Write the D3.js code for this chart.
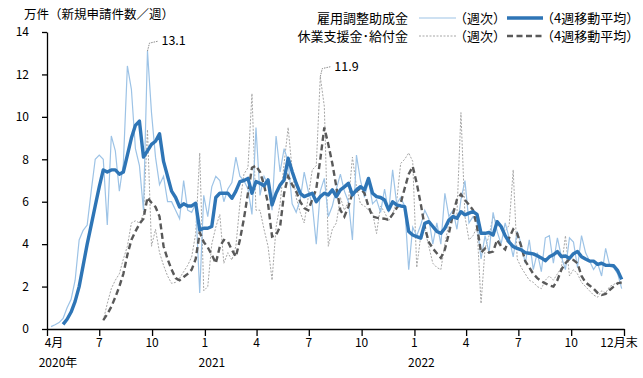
<!DOCTYPE html>
<html>
<head>
<meta charset="utf-8">
<script src="https://cdn.jsdelivr.net/npm/d3@7"></script>
<style>
  body { margin: 0; background: #fff; }
  svg text { font-family: "Noto Sans CJK JP", "Noto Sans", sans-serif; fill: #000; }
</style>
</head>
<body>
<div id="chart"></div>
<script>
// weekly new applications (10k cases/week), first week ending 2020-04-08
const firstWeek = new Date(2020, 3, 8);

const koyoWeekly = [
  0.11, 0.2, 0.3, 0.5, 1.0, 1.4, 2.3, 4.2, 4.65, 4.9,
  6.5, 8.0, 8.2, 8.0, 4.9, 9.1, 8.4, 6.5, 7.8, 12.4,
  11.3, 8.5, 7.7, 5.6, 13.1, 10.2, 8.1, 6.8, 7.2, 6.0,
  6.0, 5.6, 5.2, 7.0, 5.6, 5.5, 5.9, 1.7, 6.3, 5.3,
  6.7, 7.2, 7.0, 6.0, 6.6, 6.9, 8.1, 7.2, 7.0, 6.6,
  5.4, 9.5, 6.3, 7.2, 6.8, 5.6, 9.1, 7.4, 8.5, 7.9,
  5.9, 5.5, 6.1, 7.4, 6.5, 5.9, 4.0, 6.5, 7.1, 5.3,
  5.8, 6.6, 7.3, 6.5, 6.0, 4.2, 8.2, 7.0, 6.2, 7.0,
  5.9, 6.1, 5.5, 6.6, 5.5, 7.5, 5.9, 6.2, 5.8, 2.8,
  4.8, 4.4, 4.9, 5.6, 5.2, 4.0, 5.0, 4.0, 6.4, 5.3,
  5.6, 4.7, 6.1, 7.0, 5.0, 5.3, 5.0, 3.3, 4.4, 3.6,
  5.5, 4.6, 4.0, 5.0, 4.3, 3.4, 4.6, 4.0, 3.1, 4.2,
  2.8, 3.6, 2.7, 4.3, 4.4, 3.1, 4.3, 3.4, 2.8, 4.3,
  4.1, 2.9, 4.4, 3.6, 3.2, 2.8, 3.1, 2.5, 3.8, 3.0,
  2.9, 2.6, 1.9
];

const koyoAvg = [
  null, null, null, 0.22, 0.46, 0.8, 1.3, 2.0, 3.0, 4.0,
  4.9, 5.8, 6.7, 7.5, 7.4, 7.5, 7.5, 7.3, 7.4, 8.2,
  9.0, 9.6, 9.8, 8.1, 8.4, 8.7, 8.85, 9.2, 7.9, 7.2,
  6.5, 6.2, 5.75, 5.9, 5.8, 5.8, 5.93, 4.67, 4.75, 4.75,
  4.83, 6.2, 6.4, 6.4, 6.4, 6.16, 6.5, 6.95, 7.0, 7.1,
  6.4, 6.95, 6.87, 6.75, 7.03, 5.85, 6.4, 6.79, 7.03, 8.05,
  7.42, 6.87, 6.4, 6.24, 6.32, 6.4, 6.0, 6.24, 6.4, 6.32,
  6.56, 6.24, 6.56, 6.7, 6.87, 6.32, 6.56, 6.71, 6.56, 7.1,
  6.4, 6.24, 6.2, 6.08, 5.61, 6.0, 5.85, 5.8, 5.77, 4.6,
  4.43, 4.35, 4.28, 4.98, 5.06, 4.83, 4.6, 4.51, 4.75, 5.14,
  5.3, 5.22, 5.53, 5.38, 5.46, 5.53, 5.4, 4.51, 4.51, 4.55,
  4.43, 5.06, 4.83, 4.4, 4.1, 3.88, 3.8, 3.73, 3.6, 3.57,
  3.54, 3.45, 3.35, 3.22, 3.4, 3.5, 3.65, 3.41, 3.44, 3.33,
  3.55, 3.65, 3.41, 3.3, 3.2, 3.2, 3.05, 3.1, 3.0, 3.0,
  2.98, 2.75, 2.34
];

const kyugyoWeekly = [
  null, null, null, null, null, null, null, null, null, null,
  null, null, null, 0.4, 1.2, 1.9, 2.3, 2.6, 3.3, 3.9,
  5.0, 5.1, 5.0, 5.4, 9.4, 3.9, 4.7, 3.6, 3.0, 2.5,
  2.15, 2.2, 2.4, 2.7, 3.0, 3.4, 4.5, 8.3, 1.8, 2.0,
  4.0, 4.8, 5.4, 3.1, 3.6, 3.25, 3.9, 5.9, 7.3, 7.6,
  11.1, 5.6, 5.6, 4.7, 3.9, 2.3, 4.8, 5.9, 7.8, 9.5,
  7.5, 6.2, 5.5, 5.0, 6.2, 7.5, 7.7, 11.9, 10.5, 3.9,
  4.7, 5.0, 6.2, 5.6, 6.0, 8.1, 6.7, 5.9, 5.8, 5.6,
  5.5, 4.5, 5.8, 5.5, 5.1, 5.4, 6.0, 7.8, 8.0, 8.3,
  7.9, 2.9, 4.4, 4.7, 3.9, 3.1, 2.9, 2.8, 4.0, 5.0,
  5.3, 5.4, 10.2, 5.3, 4.2, 4.4, 4.8, 1.2, 3.8, 4.4,
  5.3, 5.0, 4.7, 4.6, 4.9, 7.5, 3.3, 2.9, 2.6, 2.3,
  2.2, 2.0, 1.9, 2.3, 2.5, 2.3, 2.6, 2.9, 4.4, 2.5,
  2.8, 2.6, 2.2, 2.0, 1.8, 1.6, 1.5, 1.8, 1.7, 2.0,
  2.1, 2.2, 2.1
];

const kyugyoAvg = [
  null, null, null, null, null, null, null, null, null, null,
  null, null, null, 0.42, 0.7, 1.05, 1.5, 2.0, 2.6, 3.5,
  4.2, 4.6, 4.95, 5.2, 6.2, 5.95, 5.75, 5.3, 3.9, 3.3,
  2.8, 2.4, 2.3, 2.45, 2.6, 2.8, 3.3, 4.55, 4.1, 3.85,
  3.5, 3.1, 3.88, 4.2, 4.12, 3.73, 3.41, 4.2, 5.2, 6.4,
  7.6, 7.7, 7.4, 6.8, 5.9, 4.36, 4.43, 4.83, 6.4, 7.2,
  6.8, 6.5, 6.0, 5.7, 5.6, 6.1, 6.6, 8.0, 9.5, 8.7,
  7.8, 6.7, 5.6, 5.3, 5.77, 6.4, 6.5, 6.63, 6.4, 5.77,
  5.3, 5.25, 5.22, 5.2, 5.14, 5.4, 5.7, 5.93, 6.63, 7.3,
  7.66, 6.87, 5.9, 4.8, 4.1, 3.8, 3.57, 3.35, 3.75, 4.5,
  5.4, 6.1, 6.35, 6.08, 5.85, 5.61, 4.83, 3.6, 3.8, 3.6,
  3.65, 4.2, 3.9, 3.75, 4.3, 4.7, 4.5, 3.9, 3.2, 2.9,
  2.6, 2.4, 2.25, 2.15, 2.05, 2.0, 2.3, 2.8, 3.1, 3.3,
  3.25, 3.1, 2.5, 2.2, 2.05, 1.9, 1.7, 1.6, 1.65, 1.84,
  2.0, 2.15, 2.2
];

const yTicks = [0, 2, 4, 6, 8, 10, 12, 14];
const monthTicks = [
  new Date(2020, 3, 1), new Date(2020, 6, 1), new Date(2020, 9, 1),
  new Date(2021, 0, 1), new Date(2021, 3, 1), new Date(2021, 6, 1), new Date(2021, 9, 1),
  new Date(2022, 0, 1), new Date(2022, 3, 1), new Date(2022, 6, 1), new Date(2022, 9, 1),
  new Date(2023, 0, 1)
];
const monthLabels = ["4月", "7", "10", "1", "4", "7", "10", "1", "4", "7", "10", "12月末"];
const yearLabels = ["2020年", "2021", "2022"];
const yearTicks = [new Date(2020, 3, 1), new Date(2021, 0, 1), new Date(2022, 0, 1)];

const width = 643, height = 378;
const svg = d3.select("#chart").append("svg")
  .attr("width", width).attr("height", height);

const x = d3.scaleTime()
  .domain([new Date(2020, 3, 1), new Date(2023, 0, 1)])
  .range([47, 624]);
const y = d3.scaleLinear().domain([0, 14]).range([329, 32]);

const dates = koyoWeekly.map((_, i) => d3.timeDay.offset(firstWeek, 7 * i));

function lineFor(values) {
  return d3.line()
    .defined(d => d[1] != null)
    .x(d => x(d[0]))
    .y(d => y(d[1]))(values.map((v, i) => [dates[i], v]));
}

// axes
const yAxis = svg.append("g")
  .attr("transform", "translate(47,0)")
  .call(d3.axisLeft(y).tickValues(yTicks).tickSize(5).tickSizeOuter(0).tickPadding(13));
yAxis.selectAll("text").style("font-size", "12px").attr("fill", "#000");

const xAxis = svg.append("g")
  .attr("transform", "translate(0,329)")
  .call(d3.axisBottom(x).tickValues(monthTicks).tickSize(7).tickSizeOuter(0).tickFormat(""));

svg.selectAll(".domain, .tick line").attr("stroke", "#000").attr("stroke-width", 1.3);

const monthShift = i => (i === 0 ? 7 : i === monthLabels.length - 1 ? -5 : 0);
svg.append("g").selectAll("text")
  .data(monthLabels)
  .join("text")
  .attr("x", (d, i) => x(monthTicks[i]) + monthShift(i))
  .attr("y", 347)
  .attr("text-anchor", "middle")
  .style("font-size", "12px")
  .text(d => d);

svg.append("g").selectAll("text")
  .data(yearLabels)
  .join("text")
  .attr("x", (d, i) => x(yearTicks[i]) + (i === 0 ? 11 : 7))
  .attr("y", 367)
  .attr("text-anchor", "middle")
  .style("font-size", "12px")
  .text(d => d);

// series
svg.append("path")
  .attr("d", lineFor(kyugyoWeekly))
  .attr("fill", "none").attr("stroke", "#a6a6a6")
  .attr("stroke-width", 1).attr("stroke-dasharray", "2,1.5");

svg.append("path")
  .attr("d", lineFor(koyoWeekly))
  .attr("fill", "none").attr("stroke", "#9dc3e6").attr("stroke-width", 1.2);

svg.append("path")
  .attr("d", lineFor(kyugyoAvg))
  .attr("fill", "none").attr("stroke", "#595959")
  .attr("stroke-width", 2.4).attr("stroke-dasharray", "6,3.5");

svg.append("path")
  .attr("d", lineFor(koyoAvg))
  .attr("fill", "none").attr("stroke", "#2e75b6")
  .attr("stroke-width", 3.4).attr("stroke-linejoin", "round");

// peak callouts
function callout(values, label) {
  const i = values.indexOf(d3.max(values));
  const px = x(dates[i]), py = y(values[i]);
  svg.append("path")
    .attr("d", `M${px},${py} L${px + 2},${py - 8} L${px + 11},${py - 10}`)
    .attr("fill", "none").attr("stroke", "#8c8c8c")
    .attr("stroke-width", 1).attr("stroke-dasharray", "1.5,1");
  svg.append("text")
    .attr("x", px + 14).attr("y", py - 6)
    .style("font-size", "12.5px")
    .text(label);
}
callout(koyoWeekly, "13.1");
callout(kyugyoWeekly, "11.9");

// title
svg.append("text")
  .attr("x", 24).attr("y", 19)
  .style("font-size", "12.5px")
  .text("万件（新規申請件数／週）");

// legend
const legendRows = [
  { name: "雇用調整助成金", y: 18, weekly: { stroke: "#9dc3e6", w: 1.2, dash: null },
    avg: { stroke: "#2e75b6", w: 3.4, dash: null } },
  { name: "休業支援金･給付金", y: 36, weekly: { stroke: "#a6a6a6", w: 1, dash: "2,1.5" },
    avg: { stroke: "#595959", w: 2.4, dash: "6,3.5" } }
];
const legend = svg.append("g");
legendRows.forEach(r => {
  legend.append("text").attr("x", 408).attr("y", r.y + 4.5)
    .attr("text-anchor", "end").style("font-size", "13px").text(r.name);
  legend.append("line").attr("x1", 419).attr("x2", 456).attr("y1", r.y).attr("y2", r.y)
    .attr("stroke", r.weekly.stroke).attr("stroke-width", r.weekly.w)
    .attr("stroke-dasharray", r.weekly.dash);
  legend.append("text").attr("x", 454).attr("y", r.y + 4.5)
    .style("font-size", "13px").text("（週次）");
  legend.append("line").attr("x1", 507).attr("x2", 543).attr("y1", r.y).attr("y2", r.y)
    .attr("stroke", r.avg.stroke).attr("stroke-width", r.avg.w)
    .attr("stroke-dasharray", r.avg.dash);
  legend.append("text").attr("x", 541).attr("y", r.y + 4.5)
    .style("font-size", "13px").text("（4週移動平均）");
});
</script>
</body>
</html>
